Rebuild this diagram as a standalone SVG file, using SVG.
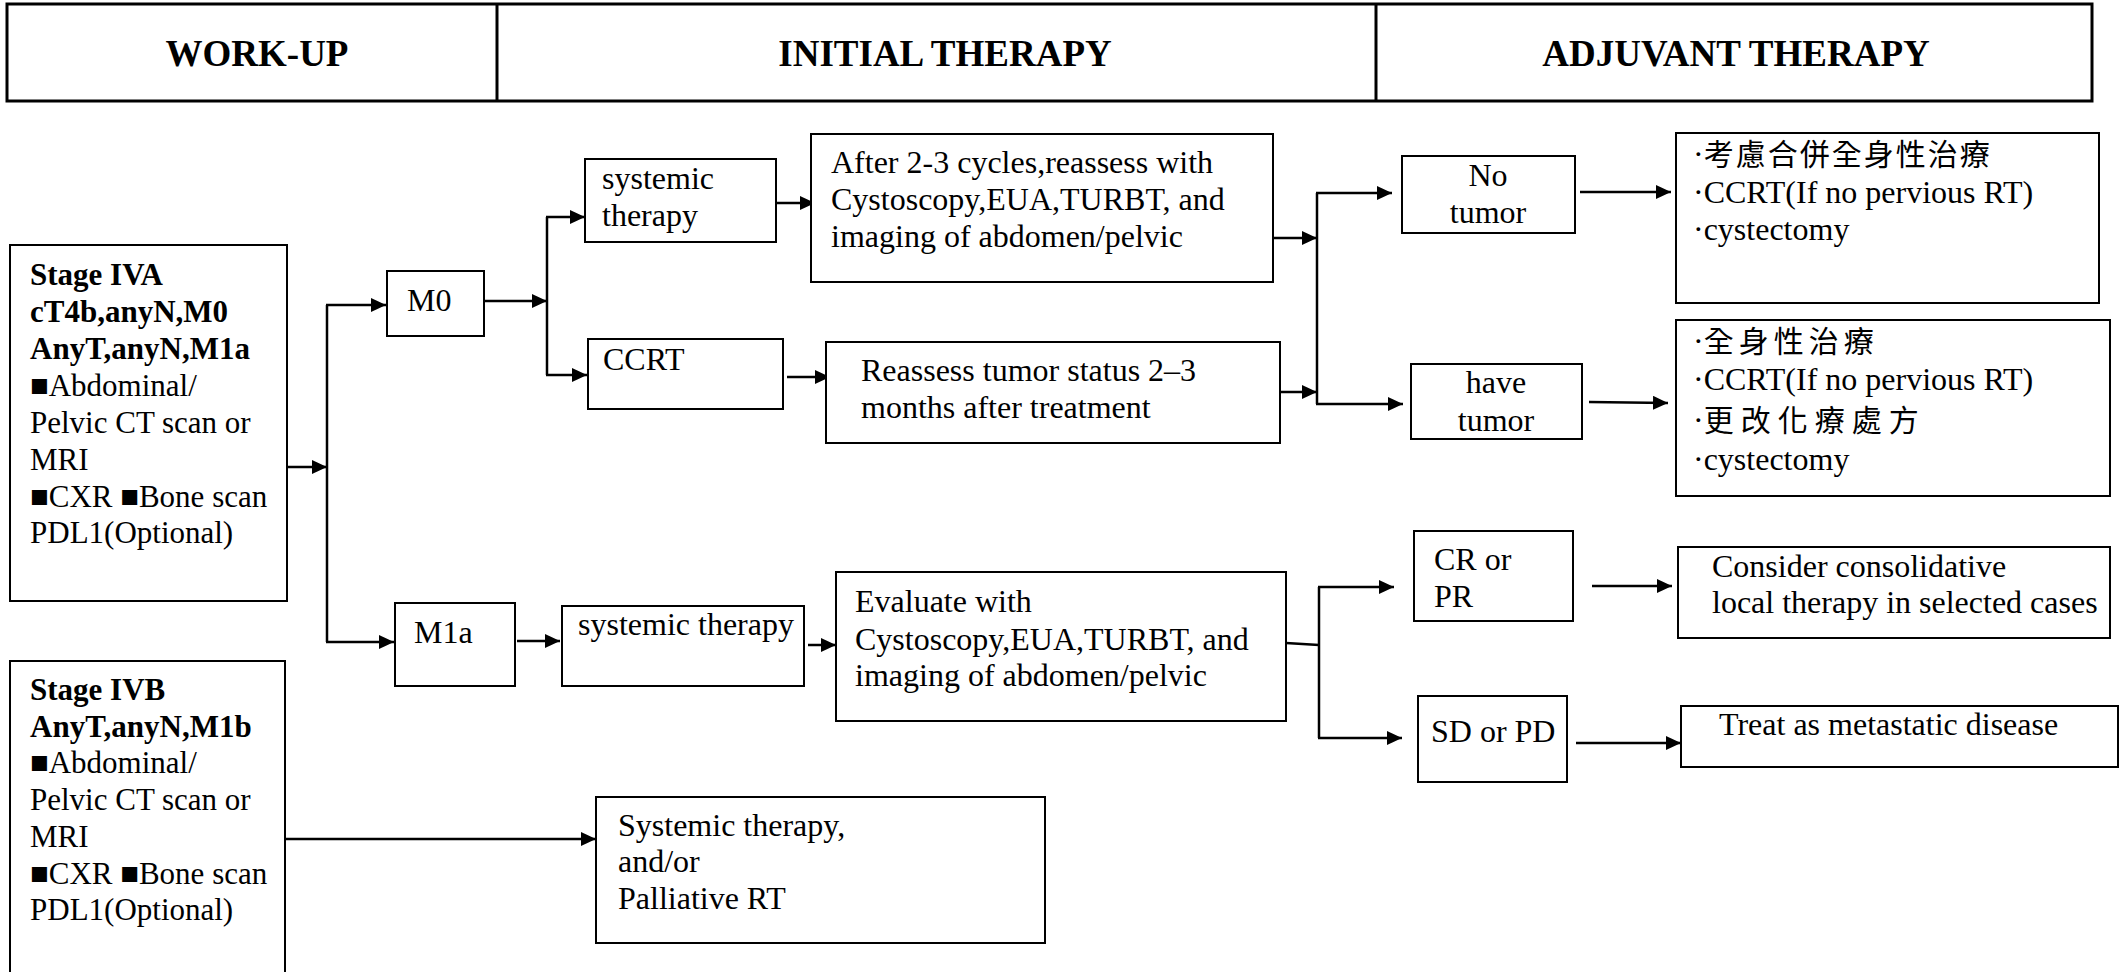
<svg xmlns="http://www.w3.org/2000/svg" width="2125" height="972" viewBox="0 0 2125 972">
<defs>
<marker id="arr" markerUnits="userSpaceOnUse" markerWidth="15" markerHeight="14" refX="15" refY="7" orient="auto">
<path d="M0,0 L15,7 L0,14 z" fill="#000"/>
</marker>
<style>
.box{fill:#fff;stroke:#000;stroke-width:2}
.hdr{fill:none;stroke:#000;stroke-width:3}
.t{font-family:"Liberation Serif","Times New Roman",serif;font-size:32px;fill:#000}
.s{font-size:31px}
.cjk{font-family:"Noto Sans CJK TC","Noto Sans CJK SC",sans-serif}
.b{font-weight:bold}
.h{font-family:"Liberation Serif","Times New Roman",serif;font-size:37px;font-weight:bold;fill:#000;text-anchor:middle}
.c{fill:none;stroke:#000;stroke-width:2.5}
.a{marker-end:url(#arr)}
</style>
</defs>
<rect width="2125" height="972" fill="#fff"/>
<g id="header">
<rect class="hdr" x="7" y="4" width="2085" height="97"/>
<line class="hdr" x1="497" y1="4" x2="497" y2="101"/>
<line class="hdr" x1="1376" y1="4" x2="1376" y2="101"/>
<text class="h" x="257" y="66">WORK-UP</text>
<text class="h" x="945" y="66">INITIAL THERAPY</text>
<text class="h" x="1736" y="66">ADJUVANT THERAPY</text>
</g>
<g id="connectors">
<line class="c a" x1="287" y1="467" x2="327" y2="467"/>
<line class="c" x1="327" y1="305" x2="327" y2="642"/>
<line class="c a" x1="326" y1="305" x2="386" y2="305"/>
<line class="c a" x1="326" y1="642" x2="394" y2="642"/>
<line class="c a" x1="485" y1="301" x2="547" y2="301"/>
<line class="c" x1="547" y1="217" x2="547" y2="375"/>
<line class="c a" x1="546" y1="217" x2="585" y2="217"/>
<line class="c a" x1="546" y1="375" x2="587" y2="375"/>
<line class="c a" x1="776" y1="203" x2="815" y2="203"/>
<line class="c a" x1="787" y1="377" x2="830" y2="377"/>
<line class="c a" x1="1273" y1="238" x2="1317" y2="238"/>
<line class="c a" x1="1280" y1="392" x2="1317" y2="392"/>
<line class="c" x1="1317" y1="193" x2="1317" y2="404"/>
<line class="c a" x1="1316" y1="193" x2="1392" y2="193"/>
<line class="c a" x1="1316" y1="404" x2="1403" y2="404"/>
<line class="c a" x1="1580" y1="192" x2="1671" y2="192"/>
<line class="c a" x1="1589" y1="402" x2="1668" y2="403"/>
<line class="c a" x1="517" y1="641" x2="560" y2="641"/>
<line class="c a" x1="808" y1="645" x2="836" y2="645"/>
<line class="c" x1="1286" y1="643" x2="1319" y2="645"/>
<line class="c" x1="1319" y1="587" x2="1319" y2="738"/>
<line class="c a" x1="1318" y1="587" x2="1394" y2="587"/>
<line class="c a" x1="1318" y1="738" x2="1402" y2="738"/>
<line class="c a" x1="1592" y1="586" x2="1672" y2="586"/>
<line class="c a" x1="1576" y1="743" x2="1681" y2="743"/>
<line class="c a" x1="285" y1="839" x2="596" y2="839"/>
</g>
<g id="stage-iva">
<rect class="box" x="10" y="245" width="277" height="356"/>
<text class="t s" x="30"><tspan class="b" x="30" y="285">Stage IVA</tspan><tspan class="b" x="30" y="322">cT4b,anyN,M0</tspan><tspan class="b" x="30" y="359">AnyT,anyN,M1a</tspan><tspan x="30" y="396">■Abdominal/</tspan><tspan x="30" y="433">Pelvic CT scan or</tspan><tspan x="30" y="470">MRI</tspan><tspan x="30" y="507">■CXR ■Bone scan</tspan><tspan x="30" y="543">PDL1(Optional)</tspan></text>
</g>
<g id="stage-ivb">
<rect class="box" x="10" y="661" width="275" height="330"/>
<text class="t s" x="30"><tspan class="b" x="30" y="700">Stage IVB</tspan><tspan class="b" x="30" y="737">AnyT,anyN,M1b</tspan><tspan x="30" y="773">■Abdominal/</tspan><tspan x="30" y="810">Pelvic CT scan or</tspan><tspan x="30" y="847">MRI</tspan><tspan x="30" y="884">■CXR ■Bone scan</tspan><tspan x="30" y="920">PDL1(Optional)</tspan></text>
</g>
<g id="m0">
<rect class="box" x="387" y="271" width="97" height="65"/>
<text class="t" x="407" y="311">M0</text>
</g>
<g id="m1a">
<rect class="box" x="395" y="603" width="120" height="83"/>
<text class="t" x="414" y="643">M1a</text>
</g>
<g id="systemic-m0">
<rect class="box" x="585" y="159" width="191" height="83"/>
<text class="t"><tspan x="602" y="189">systemic</tspan><tspan x="602" y="226">therapy</tspan></text>
</g>
<g id="ccrt">
<rect class="box" x="588" y="339" width="195" height="70"/>
<text class="t" x="603" y="370">CCRT</text>
</g>
<g id="after-cycles">
<rect class="box" x="811" y="134" width="462" height="148"/>
<text class="t"><tspan x="831" y="173">After 2-3 cycles,reassess with</tspan><tspan x="831" y="210">Cystoscopy,EUA,TURBT, and</tspan><tspan x="831" y="247">imaging of abdomen/pelvic</tspan></text>
</g>
<g id="reassess">
<rect class="box" x="826" y="342" width="454" height="101"/>
<text class="t"><tspan x="861" y="381">Reassess tumor status 2–3</tspan><tspan x="861" y="418">months after treatment</tspan></text>
</g>
<g id="no-tumor">
<rect class="box" x="1402" y="156" width="173" height="77"/>
<text class="t" text-anchor="middle"><tspan x="1488" y="186">No</tspan><tspan x="1488" y="223">tumor</tspan></text>
</g>
<g id="have-tumor">
<rect class="box" x="1411" y="364" width="171" height="75"/>
<text class="t" text-anchor="middle"><tspan x="1496" y="393">have</tspan><tspan x="1496" y="431">tumor</tspan></text>
</g>
<g id="no-tumor-tx">
<rect class="box" x="1676" y="133" width="423" height="170"/>
<text class="t"><tspan x="1693" y="165">·</tspan><tspan class="cjk" font-size="30" letter-spacing="2">考慮合併全身性治療</tspan><tspan x="1693" y="203">·CCRT(If no pervious RT)</tspan><tspan x="1693" y="240">·cystectomy</tspan></text>
</g>
<g id="have-tumor-tx">
<rect class="box" x="1676" y="320" width="434" height="176"/>
<text class="t"><tspan x="1693" y="352">·</tspan><tspan class="cjk" font-size="30" letter-spacing="5">全身性治療</tspan><tspan x="1693" y="390">·CCRT(If no pervious RT)</tspan><tspan x="1693" y="431">·</tspan><tspan class="cjk" font-size="30" letter-spacing="7">更改化療處方</tspan><tspan x="1693" y="470">·cystectomy</tspan></text>
</g>
<g id="systemic-m1a">
<rect class="box" x="562" y="606" width="242" height="80"/>
<text class="t" x="578" y="635">systemic therapy</text>
</g>
<g id="evaluate">
<rect class="box" x="836" y="572" width="450" height="149"/>
<text class="t"><tspan x="855" y="612">Evaluate with</tspan><tspan x="855" y="650">Cystoscopy,EUA,TURBT, and</tspan><tspan x="855" y="686">imaging of abdomen/pelvic</tspan></text>
</g>
<g id="cr-pr">
<rect class="box" x="1414" y="531" width="159" height="90"/>
<text class="t"><tspan x="1434" y="570">CR or</tspan><tspan x="1434" y="607">PR</tspan></text>
</g>
<g id="sd-pd">
<rect class="box" x="1418" y="696" width="149" height="86"/>
<text class="t" x="1431" y="742">SD or PD</text>
</g>
<g id="consolidative">
<rect class="box" x="1678" y="547" width="432" height="91"/>
<text class="t"><tspan x="1712" y="577">Consider consolidative</tspan><tspan x="1712" y="613">local therapy in selected cases</tspan></text>
</g>
<g id="metastatic">
<rect class="box" x="1681" y="706" width="437" height="61"/>
<text class="t" x="1719" y="735">Treat as metastatic disease</text>
</g>
<g id="palliative">
<rect class="box" x="596" y="797" width="449" height="146"/>
<text class="t"><tspan x="618" y="836">Systemic therapy,</tspan><tspan x="618" y="872">and/or</tspan><tspan x="618" y="909">Palliative RT</tspan></text>
</g>
</svg>
